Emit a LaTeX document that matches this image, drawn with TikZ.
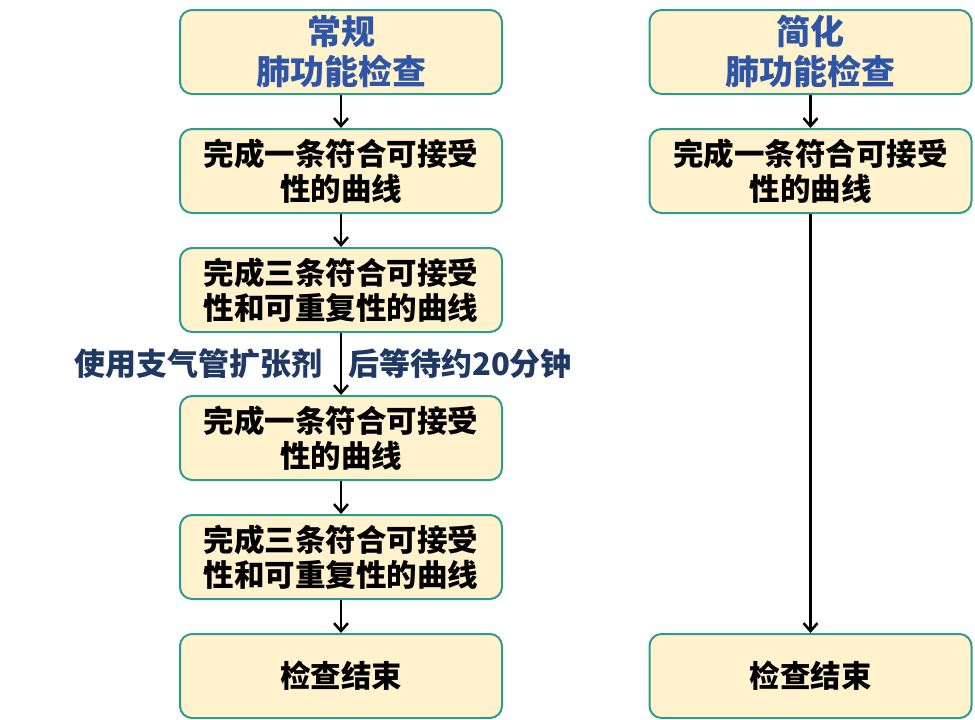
\documentclass[tikz,border=0pt]{standalone}
\usepackage{fontspec}
\setmainfont{Noto Sans CJK SC}
\usetikzlibrary{arrows.meta}
\definecolor{boxfill}{HTML}{FFF2CC}
\definecolor{boxline}{HTML}{2E9C8C}
\definecolor{titleblue}{HTML}{2F56A6}
\definecolor{notenavy}{HTML}{1F3864}
\begin{document}
\begin{tikzpicture}[x=1pt,y=-1pt]
\tikzset{
flow box/.style={rectangle,rounded corners=12pt,draw=boxline,line width=2pt,fill=boxfill,
  minimum width=322pt,minimum height=84pt,align=center,inner sep=0pt,
  font=\fontsize{30.5}{35}\selectfont\bfseries},
title box/.style={flow box,text=titleblue,font=\fontsize{34}{40}\selectfont\bfseries},
note/.style={text=notenavy,inner sep=0pt,font=\fontsize{31}{36}\selectfont\bfseries},
flow arrow/.style={line width=2.5pt,-{Straight Barb[length=8pt,width=14pt,line width=2.5pt]}}
}
\useasboundingbox (0,0) rectangle (975,720);

% left column
\node(l1)[title box] at (341,52) {常规\\肺功能检查};
\node(l2)[flow box] at (341,171) {完成一条符合可接受\\性的曲线};
\node(l3)[flow box] at (341,290) {完成三条符合可接受\\性和可重复性的曲线};
\node(l4)[flow box] at (341,438) {完成一条符合可接受\\性的曲线};
\node(l5)[flow box] at (341,557) {完成三条符合可接受\\性和可重复性的曲线};
\node(l6)[flow box] at (341,676) {检查结束};

% right column
\node(r1)[title box] at (810.5,52) {简化\\肺功能检查};
\node(r2)[flow box] at (810.5,171) {完成一条符合可接受\\性的曲线};
\node(r6)[flow box] at (810.5,676) {检查结束};

% notes
\node(n1)[note,anchor=east] at (323,364) {使用支气管扩张剂};
\node(n2)[note,anchor=west] at (348,364) {后等待约20分钟};

\foreach \a/\b in {l1/l2,l2/l3,l3/l4,l4/l5,l5/l6,r1/r2,r2/r6}
  \draw[flow arrow] (\a) -- (\b);
\end{tikzpicture}
\end{document}
